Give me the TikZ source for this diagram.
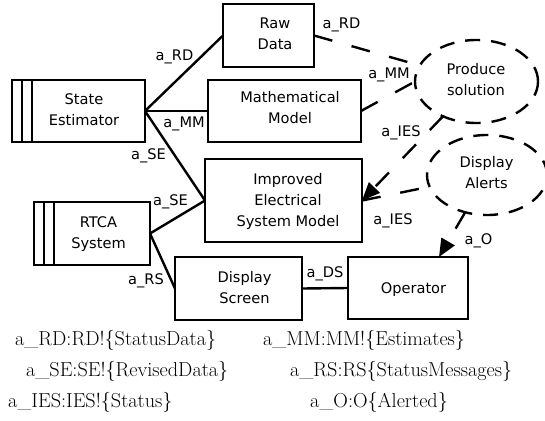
\documentclass[tikz,border=0pt]{standalone}
\usepackage{fontspec}
\newfontfamily\dvs{DejaVu Sans}
\usetikzlibrary{shapes.geometric,arrows.meta}
\begin{document}
\begin{tikzpicture}[x=1pt,y=-1pt,
  box/.style={draw,line width=2.4pt,rectangle,inner sep=0pt,outer sep=0pt},
  txt/.style={font=\dvs\fontsize{14.6}{21}\selectfont,align=center,inner sep=0pt},
  lab/.style={font=\dvs\fontsize{14.6}{17}\selectfont,inner sep=0pt,anchor=base},
  ell/.style={draw,ellipse,line width=2.4pt,dash pattern=on 15pt off 11pt,inner sep=0pt,outer sep=0pt},
  conn/.style={line width=2.4pt},
  dconn/.style={line width=2.4pt,dash pattern=on 19pt off 20pt},
  arr/.style={-{Triangle[length=18pt,width=15pt]}},
  bottom/.style={font=\fontsize{20.2}{23}\selectfont,inner sep=0pt,anchor=base west}]
\useasboundingbox (0,0) rectangle (545,420);
% boxes
\node[box,minimum width=91pt,minimum height=63pt] (RD) at (268.5,35.5) {};
\node[txt] (RDt) at (275,34.2) {Raw\\Data};
\node[box,minimum width=133pt,minimum height=62pt] (SE) at (78.5,111) {};
\draw[conn] ([xshift=10pt]SE.north west) -- ([xshift=10pt]SE.south west);
\draw[conn] ([xshift=20pt]SE.north west) -- ([xshift=20pt]SE.south west);
\node[txt] (SEt) at (84,109.2) {State\\Estimator};
\node[box,minimum width=153pt,minimum height=62pt] (MM) at (284.5,111) {};
\node[txt] (MMt) at (290,107.5) {Mathematical\\Model};
\node[box,minimum width=157pt,minimum height=83pt] (IES) at (283.5,200.5) {};
\node[txt] (IESt) at (288,201.2) {Improved\\Electrical\\System Model};
\node[box,minimum width=116pt,minimum height=63pt] (RTCA) at (92,233.5) {};
\draw[conn] ([xshift=10pt]RTCA.north west) -- ([xshift=10pt]RTCA.south west);
\draw[conn] ([xshift=20pt]RTCA.north west) -- ([xshift=20pt]RTCA.south west);
\node[txt] (RTCAt) at (98.5,234.3) {RTCA\\System};
\node[box,minimum width=127pt,minimum height=63pt] (DS) at (238.5,288.5) {};
\node[txt] (DSt) at (244.5,287.5) {Display\\Screen};
\node[box,minimum width=120pt,minimum height=62pt] (OP) at (408,288) {};
\node[txt] (OPt) at (413.5,289.3) {Operator};
% ellipses
\node[ell,minimum width=123pt,minimum height=83pt] (PS) at (476.5,81.5) {};
\node[txt] (PSt) at (476,79.5) {Produce\\solution};
\node[ell,minimum width=120pt,minimum height=80pt] (DA) at (487,175) {};
\node[txt] (DAt) at (486.5,172.5) {Display\\Alerts};
% connectors
\draw[conn] (SE.east) -- (RD.west);
\draw[conn] (SE.east) -- (MM.west);
\draw[conn] (SE.east) -- (IES.west);
\draw[conn] (RTCA.east) -- (IES.west);
\draw[conn] (RTCA.east) -- (DS.west);
\draw[conn] (DS.east) -- (OP.west);
\draw[dconn] (RD.east) -- (PS);
\draw[dconn] (MM.east) -- (PS.west);
\draw[dconn,arr] (PS) -- (IES.east);
\draw[dconn] (IES.east) -- (DA);
\draw[dconn,arr] (DA) -- (OP.45);
% labels
\node[lab] (l1) at (174.5,60) {a\_RD};
\node[lab] (l2) at (184,127) {a\_MM};
\node[lab] (l3) at (148.5,159) {a\_SE};
\node[lab] (l4) at (170.5,205) {a\_SE};
\node[lab] (l5) at (146,284) {a\_RS};
\node[lab] (l6) at (325,277) {a\_DS};
\node[lab] (l7) at (341.5,29) {a\_RD};
\node[lab] (l8) at (389,78) {a\_MM};
\node[lab] (l9) at (401,136) {a\_IES};
\node[lab] (l10) at (393,224) {a\_IES};
\node[lab] (l11) at (478.5,244) {a\_O};
% bottom text
\node[bottom] (b1) at (15,345) {a\_RD:RD!\{StatusData\}};
\node[bottom] (b2) at (263,345) {a\_MM:MM!\{Estimates\}};
\node[bottom] (b3) at (26,376) {a\_SE:SE!\{RevisedData\}};
\node[bottom] (b4) at (290,376) {a\_RS:RS\{StatusMessages\}};
\node[bottom] (b5) at (8,407) {a\_IES:IES!\{Status\}};
\node[bottom] (b6) at (310,407) {a\_O:O\{Alerted\}};
\end{tikzpicture}
\end{document}
